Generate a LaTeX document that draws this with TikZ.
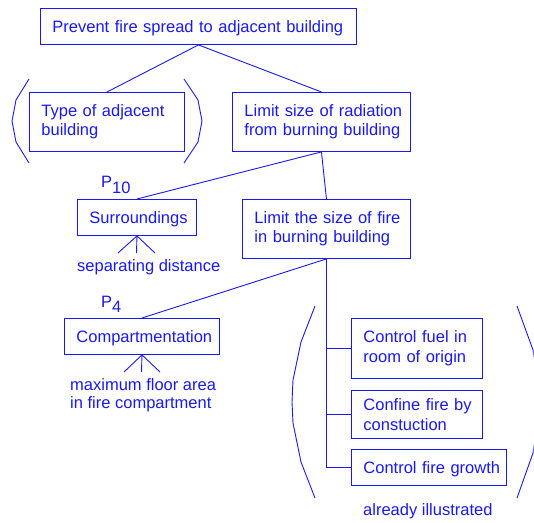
\documentclass[tikz,border=0pt]{standalone}
\usepackage{fontspec}
\setmainfont{Liberation Sans}
\definecolor{ink}{RGB}{25,25,240}
% left indent of each text line inside a box
\newcommand\ind{\hspace*{12pt}}
\begin{document}
\begin{tikzpicture}[x=1pt,y=-1pt,
  every node/.style={text=ink, font=\fontsize{16.5}{19.5}\selectfont},
  line/.style={draw=ink, line width=0.9pt},
  box/.style={line, rectangle, anchor=north west, inner xsep=0pt, inner ysep=0pt, align=left},
  oneline/.style={text height=14pt, text depth=2pt},
  note/.style={anchor=base west, inner sep=0pt, align=left}]
\useasboundingbox (0,0) rectangle (534,522);

% boxes
\node[box, oneline, text width=316pt, minimum height=36pt] (top) at (40,8) {\ind Prevent fire spread to adjacent building};
\node[box, text width=155pt, minimum height=59pt] (type) at (29,92) {\ind Type of adjacent\\\ind building};
\node[box, text width=178pt, minimum height=59pt] (rad) at (232,92) {\ind Limit size of radiation\\\ind from burning building};
\node[box, oneline, text width=119pt, minimum height=36pt] (surr) at (77,199) {\ind Surroundings};
\node[box, text width=168pt, minimum height=59pt] (fire) at (242,199) {\ind Limit the size of fire\\\ind in burning building};
\node[box, oneline, text width=155pt, minimum height=36pt] (comp) at (64,318) {\ind Compartmentation};
\node[box, text width=131pt, minimum height=60pt] (fuel) at (351,318) {\ind Control fuel in\\\ind room of origin};
\node[box, text width=131pt, minimum height=48pt] (conf) at (351,390) {\ind Confine fire by\\\ind constuction};
\node[box, oneline, text width=155pt, minimum height=36pt] (grow) at (351,449) {\ind Control fire growth};

% labels
\node[note] (p10) at (101,187) {P\raisebox{-6pt}{10}};
\node[note] (p4) at (101,307) {P\raisebox{-5pt}{4}};
\node[note] (sep) at (77,271) {separating distance};
\node[note, font=\fontsize{16.5}{18}\selectfont] (area) at (70,408) {maximum floor area\\in fire compartment};
\node[note] (ill) at (363,515) {already illustrated};

% connectors
\draw[line] (top.south) -- (type.north);
\draw[line] (top.south) -- (rad.north);
\draw[line] (rad.south) -- (surr.north);
\draw[line] (rad.south) -- (fire.north);
\draw[line] (fire.south) -- (comp.north);
\draw[line] (fire.south) |- (fuel.west);
\draw[line] (fire.south) |- (conf.west);
\draw[line] (fire.south) |- (grow.west);

% tripods under the boxes
\coordinate (s1) at (118,253);
\coordinate (s2) at (136.5,253);
\coordinate (s3) at (155,253);
\draw[line] (s1) -- (surr.south) -- (s3);
\draw[line] (s2) -- (surr.south);
\coordinate (c1) at (124,372);
\coordinate (c2) at (141.5,372);
\coordinate (c3) at (160,372);
\draw[line] (c1) -- (comp.south) -- (c3);
\draw[line] (c2) -- (comp.south);

% brackets
\begin{scope}
\clip (0,0) rectangle (533.5,522);
\draw[line] (29,79) -- (16,100) -- (12,121) -- (16,142) -- (29,163);
\draw[line] (184,79) -- (198,100) -- (202,121) -- (198,142) -- (184,163);
\draw[line] (315,306) -- (301,342) -- (293,380) -- (292,402) -- (293,423) -- (301,462) -- (315,498);
\draw[line] (517,306) -- (533,350) -- (540,402) -- (533,453) -- (517,498);
\end{scope}
\end{tikzpicture}
\end{document}
